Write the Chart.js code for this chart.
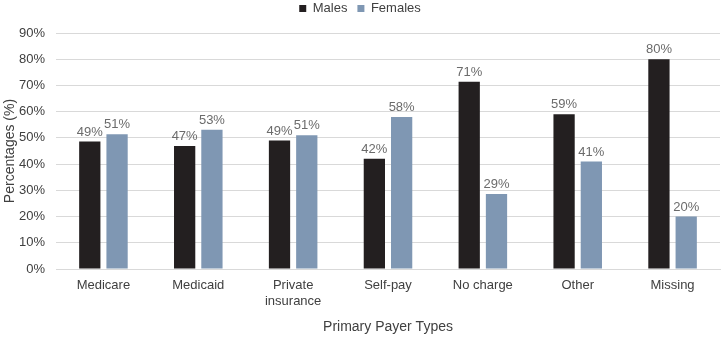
<!DOCTYPE html>
<html>
<head>
<meta charset="utf-8">
<script src="https://cdn.jsdelivr.net/npm/chart.js@4/dist/chart.umd.min.js"></script>
<style>
	html, body { margin: 0; padding: 0; background: #fff; }
	#wrap { width: 722px; height: 339px; }
</style>
</head>
<body>
<div id="wrap"><canvas id="payer" width="722" height="339"></canvas></div>
<script>
const categories = ['Medicare', 'Medicaid', ['Private', 'insurance'], 'Self-pay', 'No charge', 'Other', 'Missing'];
const males = [48.6, 46.9, 49.0, 42.0, 71.4, 59.0, 80.0];
const females = [51.4, 53.1, 51.0, 58.0, 28.6, 41.0, 20.0];
const yMax = 90;
const yStep = 10;

const FONT = '"Liberation Sans", Arial, sans-serif';

// draws "49%" style labels above each bar
const barLabels = {
	id: 'barLabels',
	afterDatasetsDraw(chart) {
		const ctx = chart.ctx;
		ctx.save();
		ctx.font = '13px ' + FONT;
		ctx.fillStyle = '#6b6b6b';
		ctx.textAlign = 'center';
		ctx.textBaseline = 'bottom';
		chart.data.datasets.forEach((ds, i) => {
			chart.getDatasetMeta(i).data.forEach((bar, j) => {
				ctx.fillText(Math.round(ds.data[j]) + '%', bar.x, bar.y - 3);
			});
		});
		ctx.restore();
	}
};

// nudge the legend up a bit, keeps the plot area where it is
const legendUp = {
	id: 'legendUp',
	afterLayout(chart) {
		if (chart.legend) {
			chart.legend.top -= 8;
			chart.legend.bottom -= 8;
		}
	}
};

new Chart(document.getElementById('payer').getContext('2d'), {
	type: 'bar',
	data: {
		labels: categories,
		datasets: [
			{ label: 'Males', data: males, backgroundColor: '#231f20', borderWidth: 0 },
			{ label: 'Females', data: females, backgroundColor: '#7f97b3', borderWidth: 0 },
		],
	},
	options: {
		responsive: false,
		animation: false,
		devicePixelRatio: 1,
		layout: { padding: { left: 0, right: 2, top: 0, bottom: 0 } },
		categoryPercentage: 0.575,
		barPercentage: 0.78,
		plugins: {
			legend: {
				position: 'top',
				labels: {
					boxWidth: 7, boxHeight: 7, padding: 10,
					color: '#404040',
					font: { family: FONT, size: 13 },
				},
			},
			tooltip: { enabled: false },
		},
		scales: {
			x: {
				grid: { display: false, drawTicks: false },
				border: { color: '#d9d9d9' },
				ticks: { color: '#404040', font: { family: FONT, size: 13 }, maxRotation: 0, padding: 9 },
				title: { display: true, text: 'Primary Payer Types', color: '#404040', font: { family: FONT, size: 14 }, padding: { top: 10, bottom: 3 } },
				afterFit: s => { s.height = 70; },
			},
			y: {
				min: 0, max: yMax,
				grid: { color: '#d9d9d9', drawTicks: false },
				border: { display: false },
				ticks: {
					stepSize: yStep, padding: 11,
					color: '#404040', font: { family: FONT, size: 13 },
					callback: v => v + '%',
				},
				title: { display: true, text: 'Percentages (%)', color: '#404040', font: { family: FONT, size: 14 }, padding: 2 },
				afterFit: s => { s.width = 56; },
			},
		},
	},
	plugins: [barLabels, legendUp],
});
</script>
</body>
</html>
